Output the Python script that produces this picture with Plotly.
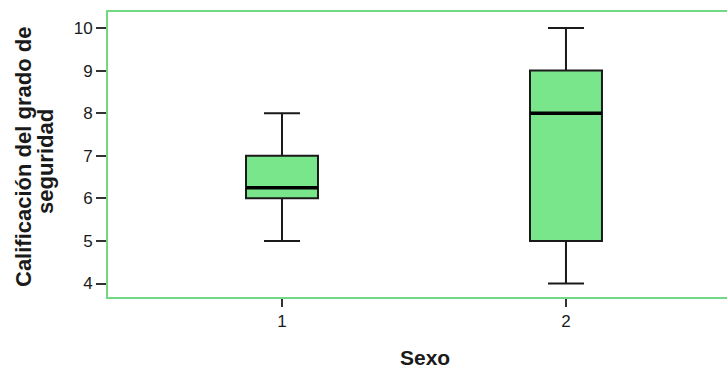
import plotly.graph_objects as go

# Data
categories = [1, 2]
tick_labels = ["1", "2"]
q1 = [6, 5]
medians = [6.25, 8]
q3 = [7, 9]
lower = [5, 4]
upper = [8, 10]
y_ticks = [4, 5, 6, 7, 8, 9, 10]

box_w = 0.2535
FONT = "Liberation Sans, Arial, sans-serif"

fig = go.Figure()
fig.add_trace(go.Box(
    x=categories, q1=q1, median=medians, q3=q3,
    lowerfence=lower, upperfence=upper,
    width=box_w, whiskerwidth=0.5,
    fillcolor="#79e68b",
    line=dict(color="#1a1a1a", width=2),
    boxpoints=False, showlegend=False, hoverinfo="skip",
))

mx, my = [], []
for c, m in zip(categories, medians):
    mx += [c - box_w / 2, c + box_w / 2, None]
    my += [m, m, None]
fig.add_trace(go.Scatter(x=mx, y=my, mode="lines",
                         line=dict(color="black", width=3.5),
                         showlegend=False, hoverinfo="skip"))

W, H = 727, 369
L = 108
T = 12
B = H - 297
pw = W - L
ph = H - B - T

def px_x(p):
    return (p - L) / pw

def px_y(p):
    return (H - B - p) / ph

fig.update_layout(
    width=W, height=H,
    margin=dict(l=L, r=0, t=T, b=B),
    paper_bgcolor="white", plot_bgcolor="white",
    font=dict(family=FONT, color="#1a1a1a"),
    xaxis=dict(
        range=[0.3873, 2.567], tickvals=categories, ticktext=tick_labels,
        showline=True, mirror=True, linecolor="#72d882", linewidth=2,
        ticks="outside", ticklen=8, tickwidth=1.5, tickcolor="#333",
        tickfont=dict(size=17, family=FONT, color="#1a1a1a"),
        showgrid=False, zeroline=False,
    ),
    yaxis=dict(
        range=[3.683, 10.376], tickvals=y_ticks,
        showline=True, mirror=False, linecolor="#72d882", linewidth=2,
        ticks="outside", ticklen=10, tickwidth=1.5, tickcolor="#333",
        tickfont=dict(size=17, family=FONT, color="#1a1a1a"),
        showgrid=False, zeroline=False,
    ),
    annotations=[
        dict(text="<b>Calificación del grado de</b>", textangle=-90,
             xref="paper", yref="paper", x=px_x(23), y=px_y(157),
             xanchor="center", yanchor="middle", showarrow=False,
             font=dict(size=22, family=FONT, color="#1a1a1a")),
        dict(text="<b>seguridad</b>", textangle=-90,
             xref="paper", yref="paper", x=px_x(45), y=px_y(162),
             xanchor="center", yanchor="middle", showarrow=False,
             font=dict(size=22, family=FONT, color="#1a1a1a")),
        dict(text="<b>Sexo</b>",
             xref="paper", yref="paper", x=px_x(425), y=px_y(357),
             xanchor="center", yanchor="middle", showarrow=False,
             font=dict(size=21, family=FONT, color="#1a1a1a")),
    ],
)

fig.write_html(
    "out.html",
    config={"displayModeBar": False},
    post_script="document.body.style.margin='0';"
                "document.documentElement.style.overflow='hidden';"
                "document.body.style.overflow='hidden';",
)
